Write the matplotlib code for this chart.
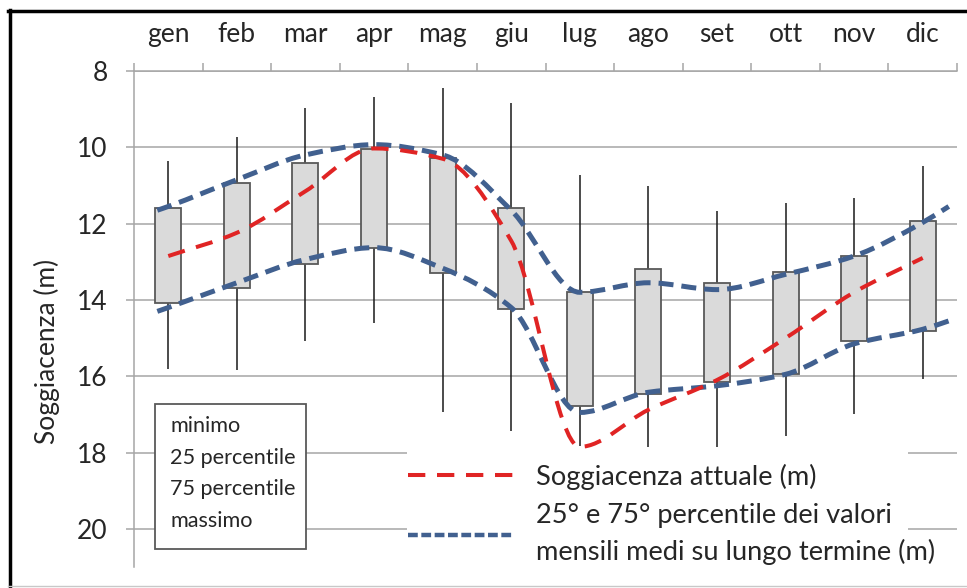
import matplotlib.pyplot as plt
from matplotlib.path import Path
from matplotlib.patches import PathPatch, Rectangle
from matplotlib.lines import Line2D
import numpy as np

plt.rcParams['font.family'] = ['Lato', 'DejaVu Sans']

# monthly statistics of the water table depth (m)
months = ['gen', 'feb', 'mar', 'apr', 'mag', 'giu', 'lug', 'ago', 'set', 'ott', 'nov', 'dic']
minimo = [10.35, 9.72, 8.97, 8.67, 8.45, 8.85, 10.72, 11.02, 11.68, 11.45, 11.32, 10.48]
p25 = [11.6, 10.93, 10.4, 10.04, 10.27, 11.6, 13.8, 13.18, 13.55, 13.28, 12.85, 11.94]
p75 = [14.07, 13.7, 13.05, 12.65, 13.3, 14.25, 16.78, 16.47, 16.16, 15.95, 15.08, 14.82]
massimo = [15.8, 15.83, 15.08, 14.6, 16.93, 17.43, 17.82, 17.86, 17.86, 17.57, 17.0, 16.08]

# current depth
attuale = [12.85, 12.24, 11.15, 10.03, 10.3, 12.45, 17.85, 16.88, 16.1, 15.0, 13.8, 12.9]

# long term 25th / 75th percentile curves (position in months)
perc_x = [-0.16, 0, 1, 2, 3, 4, 5, 6, 7, 8, 9, 10, 11, 11.38]
perc_alto = [11.65, 11.55, 10.85, 10.2, 9.93, 10.2, 11.65, 13.8, 13.55, 13.73, 13.33, 12.85, 11.97, 11.55]
perc_basso = [14.3, 14.2, 13.55, 12.94, 12.63, 13.17, 14.2, 16.95, 16.42, 16.25, 15.95, 15.15, 14.77, 14.55]

RED = '#e02424'
BLUE = '#41608f'
W, H = 967, 588


def smooth_path(xs, ys):
    # monotone cubic (pchip) tangents turned into bezier segments
    x = np.asarray(xs, float)
    y = np.asarray(ys, float)
    h = np.diff(x)
    d = np.diff(y) / h
    m = np.zeros_like(y)
    m[0], m[-1] = d[0], d[-1]
    for k in range(1, len(y) - 1):
        if d[k - 1] * d[k] > 0:
            w1 = 2 * h[k] + h[k - 1]
            w2 = h[k] + 2 * h[k - 1]
            m[k] = (w1 + w2) / (w1 / d[k - 1] + w2 / d[k])
    verts = [(x[0], y[0])]
    codes = [Path.MOVETO]
    for k in range(len(x) - 1):
        verts += [(x[k] + h[k] / 3, y[k] + m[k] * h[k] / 3),
                  (x[k + 1] - h[k] / 3, y[k + 1] - m[k + 1] * h[k] / 3),
                  (x[k + 1], y[k + 1])]
        codes += [Path.CURVE4] * 3
    return Path(verts, codes)


fig = plt.figure(figsize=(W / 100, H / 100), dpi=100)
ax = fig.add_axes([134 / W, 21 / H, 823 / W, 496 / H])

pos = np.arange(len(months))
ax.set_xlim(-0.5, 11.5)
ax.set_ylim(21, 8)

# axes look
for s in ['right', 'bottom']:
    ax.spines[s].set_visible(False)
for s in ['left', 'top']:
    ax.spines[s].set_color('#a6a6a6')
    ax.spines[s].set_linewidth(1.1)
ax.xaxis.tick_top()
ax.set_xticks(np.arange(-0.5, 12, 1))
ax.set_xticklabels([])
ax.set_xticks(pos, minor=True)
ax.set_xticklabels(months, minor=True, fontsize=19, color='#262626')
ax.tick_params(axis='x', which='major', direction='out', length=6, width=1.1, color='#a6a6a6')
ax.tick_params(axis='x', which='minor', length=0, pad=17)
ax.set_yticks(np.arange(8, 21, 2))
ax.tick_params(axis='y', direction='out', length=6, width=1.1, color='#a6a6a6',
               labelsize=19, labelcolor='#262626', pad=13)
ax.grid(axis='y', color='#a6a6a6', lw=1.1, zorder=0)
ax.set_axisbelow(True)

# whiskers and boxes
ax.vlines(pos, minimo, massimo, color='#1a1a1a', lw=1.1, zorder=1)
ax.bar(pos, np.array(p75) - np.array(p25), bottom=p25, width=0.38,
       color='#dadada', edgecolor='#595959', lw=1.3, zorder=2)

# percentile curves and current depth
for serie in [perc_alto, perc_basso]:
    pp = PathPatch(smooth_path(perc_x, serie), fill=False, edgecolor=BLUE, lw=3.6,
                   linestyle=(0, (3.0, 1.6)), capstyle='butt', zorder=3)
    ax.add_patch(pp)
pr = PathPatch(smooth_path(pos, attuale), fill=False, edgecolor=RED, lw=2.9,
               linestyle=(0, (4.3, 2.9)), capstyle='butt', zorder=4)
ax.add_patch(pr)

# white area behind legend
ax.add_patch(Rectangle((407 / W, 1 - 566 / H), 501 / W, 114 / H, transform=fig.transFigure,
                       facecolor='white', edgecolor='none', zorder=5, clip_on=False))
handles = [Line2D([], [], color=RED, lw=2.9, linestyle=(0, (4.3, 2.9))),
           Line2D([], [], color=BLUE, lw=3.2, linestyle=(0, (2.2, 0.8)))]
labels = ['Soggiacenza attuale (m)',
          '25° e 75° percentile dei valori\nmensili medi su lungo termine (m)']
leg = ax.legend(handles, labels, loc='upper left', bbox_to_anchor=(405 / W, 1 - 461 / H),
                bbox_transform=fig.transFigure, frameon=False, fontsize=19.6,
                handlelength=3.9, handletextpad=0.8, labelspacing=0.5,
                borderpad=0.1, borderaxespad=0)
leg.set_zorder(6)
for t in leg.get_texts():
    t.set_color('#262626')
    t.set_linespacing(1.5)

# box with explanation of the whiskers
fig.add_artist(Rectangle((155 / W, 1 - 549 / H), 151 / W, 145 / H, transform=fig.transFigure,
                         facecolor='white', edgecolor='#595959', lw=1.3))
fig.text(170 / W, 1 - 416 / H, 'minimo\n25 percentile\n75 percentile\nmassimo',
         fontsize=15.6, color='#262626', va='top', ha='left', linespacing=1.72)

fig.text(47 / W, 1 - 351 / H, 'Soggiacenza (m)', rotation=90, fontsize=19,
         color='#262626', va='center', ha='center')

# outer frame
fig.add_artist(Line2D([9.5 / W, 9.5 / W], [1 - 586 / H, 1 - 10 / H], color='black', lw=2.5,
                      transform=fig.transFigure))
fig.add_artist(Line2D([8 / W, 1], [1 - 10.5 / H, 1 - 10.5 / H], color='black', lw=2.5,
                      transform=fig.transFigure))
fig.add_artist(Line2D([8 / W, 1], [1 - 586 / H, 1 - 586 / H], color='#c8c8c8', lw=1,
                      transform=fig.transFigure))

fig.savefig('out.png', dpi=100)
